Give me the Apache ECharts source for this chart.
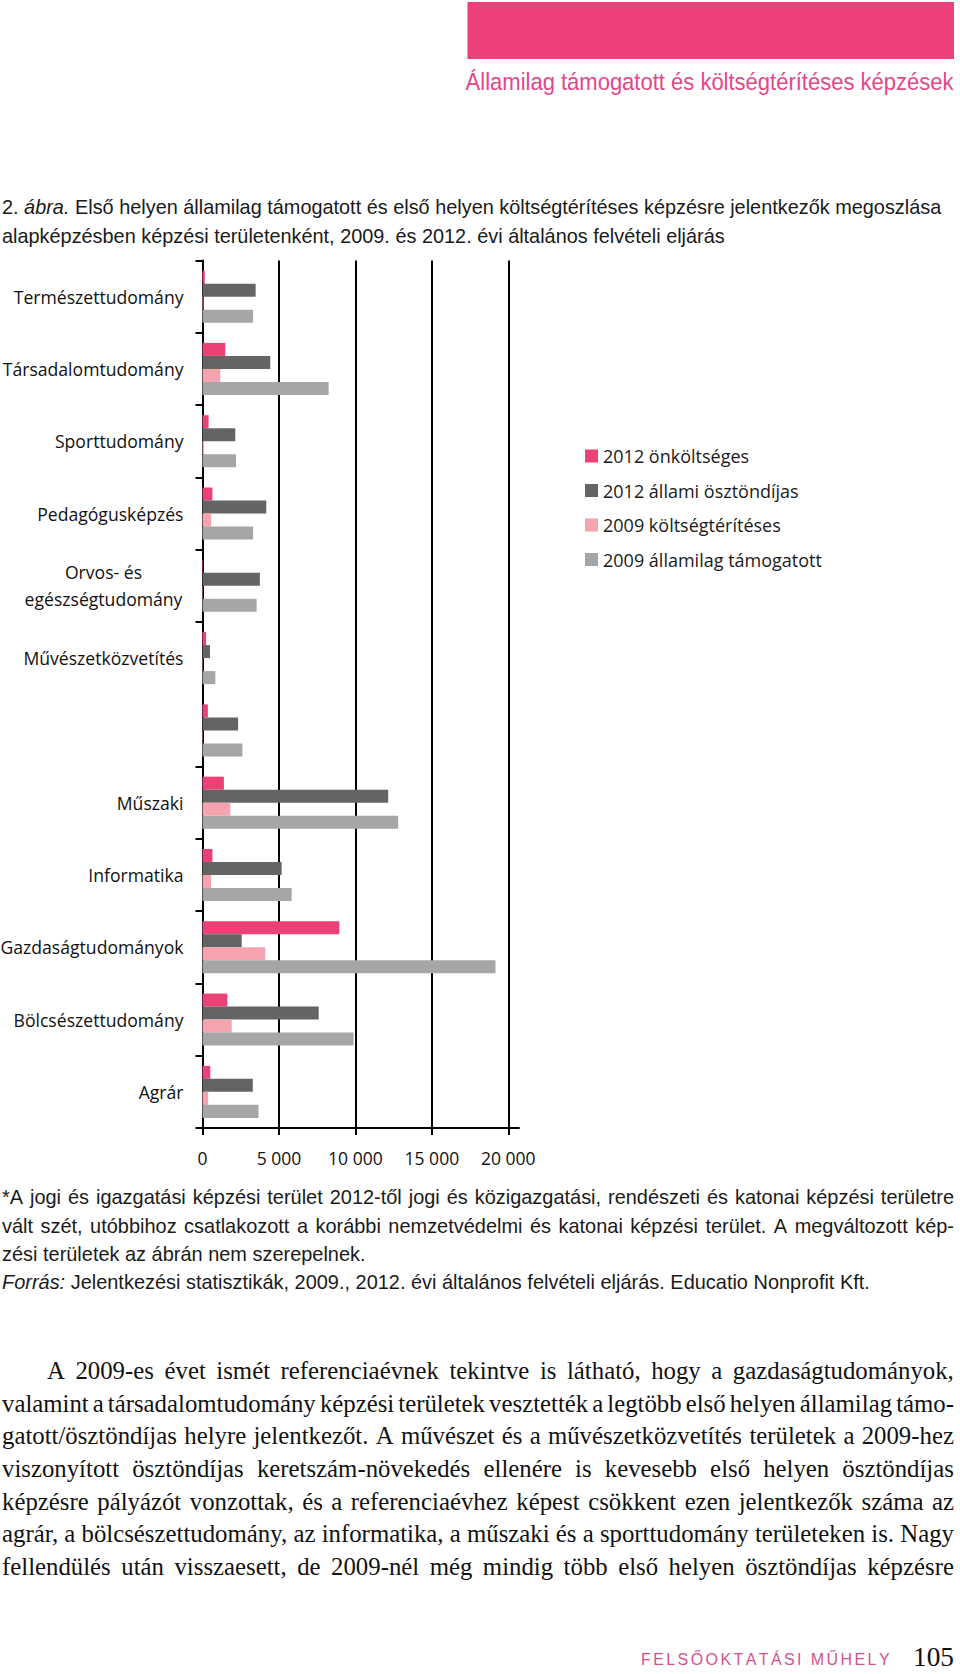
<!DOCTYPE html>
<html>
<head>
<meta charset="utf-8">
<script src="https://cdn.jsdelivr.net/npm/echarts@6/dist/echarts.min.js"></script>
<style>
html,body{margin:0;padding:0;background:#fff;}
#chart{width:960px;height:1674px;}
</style>
</head>
<body>
<div id="chart"></div>
<script>
// ---------- data ----------
const categories = ['Természettudomány','Társadalomtudomány','Sporttudomány','Pedagógusképzés','Orvos- és egészségtudomány','Művészetközvetítés','Művészet','Műszaki','Informatika','Gazdaságtudományok','Bölcsészettudomány','Agrár'];
const hiddenLabels = ['Művészet'];
const seriesNames = ['2012 önköltséges','2012 állami ösztöndíjas','2009 költségtérítéses','2009 államilag támogatott'];
const onkoltseges2012 = [150, 1490, 400, 650, 40, 235, 350, 1400, 650, 8950, 1630, 510];
const allami2012      = [3475, 4430, 2145, 4170, 3750, 490, 2330, 12145, 5175, 2565, 7600, 3290];
const koltsegterites2009 = [60, 1165, 100, 560, 30, 30, 30, 1820, 560, 4100, 1910, 370];
const tamogatott2009  = [3310, 8250, 2190, 3310, 3540, 840, 2610, 12800, 5830, 19160, 9880, 3660];
const xTicks = [0, 5000, 10000, 15000, 20000];
const xTickLabels = ['0', '5 000', '10 000', '15 000', '20 000'];

// ---------- texts ----------
const headerText = 'Államilag támogatott és költségtérítéses képzések';
const captionLines = [
  [['2. ', 'n'], ['ábra.', 'i'], [' Első helyen államilag támogatott és első helyen költségtérítéses képzésre jelentkezők megoszlása', 'n']],
  [['alapképzésben képzési területenként, 2009. és 2012. évi általános felvételi eljárás', 'n']]
];
const footLines = [
  '*A jogi és igazgatási képzési terület 2012-től jogi és közigazgatási, rendészeti és katonai képzési területre',
  'vált szét, utóbbihoz csatlakozott a korábbi nemzetvédelmi és katonai képzési terület. A megváltozott kép-',
  'zési területek az ábrán nem szerepelnek.'
];
const sourceLine = [['Forrás:', 'i'], [' Jelentkezési statisztikák, 2009., 2012. évi általános felvételi eljárás. Educatio Nonprofit Kft.', 'n']];
const bodyLines = [
  'A 2009-es évet ismét referenciaévnek tekintve is látható, hogy a gazdaságtudományok,',
  'valamint a társadalomtudomány képzési területek vesztették a legtöbb első helyen államilag támo-',
  'gatott/ösztöndíjas helyre jelentkezőt. A művészet és a művészetközvetítés területek a 2009-hez',
  'viszonyított ösztöndíjas keretszám-növekedés ellenére is kevesebb első helyen ösztöndíjas',
  'képzésre pályázót vonzottak, és a referenciaévhez képest csökkent ezen jelentkezők száma az',
  'agrár, a bölcsészettudomány, az informatika, a műszaki és a sporttudomány területeken is. Nagy',
  'fellendülés után visszaesett, de 2009-nél még mindig több első helyen ösztöndíjas képzésre'
];
const footerLabel = 'FELSŐOKTATÁSI MŰHELY';
const pageNumber = '105';

// ---------- text layout helpers ----------
const mctx = document.createElement('canvas').getContext('2d');
function mw(t, font){ mctx.font = font; return mctx.measureText(t).width; }
function txt(t, x, y, font, fill, scale, align){
  return {type:'text', x:x, y:y, scaleX:scale, silent:true,
    style:{text:t, font:font, fill:fill, textAlign:align||'left', align:align||'left',
           textVerticalAlign:'middle', verticalAlign:'middle'}};
}
const els = [];
const SANS = '"Liberation Sans", Arial, sans-serif';
const SERIF = '"Liberation Serif", "Times New Roman", serif';

// header
els.push({type:'rect', silent:true, shape:{x:467.5, y:2, width:486.5, height:57}, style:{fill:'#EE3F7D'}});
{
  const f = '24px ' + SANS;
  const s = 488 / mw(headerText, f);
  els.push(txt(headerText, 953.5, 82, f, '#E2478A', s, 'right'));
}
function segLine(segs, x, y, size, scale, fill){
  let cx = x;
  segs.forEach(([t, st]) => {
    const f = (st === 'i' ? 'italic ' : '') + size + 'px ' + SANS;
    els.push(txt(t, cx, y, f, fill, scale));
    cx += mw(t, f) * scale;
  });
}
function segWidth(segs, size){
  return segs.reduce((a, [t, st]) => a + mw(t, (st === 'i' ? 'italic ' : '') + size + 'px ' + SANS), 0);
}
function justify(line, font, x0, x1, y, scale, fill){
  const words = line.split(' ');
  const ws = words.map(w => mw(w, font) * scale);
  const sum = ws.reduce((a, b) => a + b, 0);
  const gap = (x1 - x0 - sum) / (words.length - 1);
  let cx = x0;
  words.forEach((w, i) => { els.push(txt(w, cx, y, font, fill, scale)); cx += ws[i] + gap; });
}
// caption
{
  const size = 20.5;
  const s = 940 / segWidth(captionLines[0], size);
  segLine(captionLines[0], 2, 207, size, s, '#1a1a1a');
  segLine(captionLines[1], 2, 236, size, s, '#1a1a1a');
}
// footnote
{
  const size = 20.5;
  const s = 868 / segWidth(sourceLine, size);
  const f = size + 'px ' + SANS;
  justify(footLines[0], f, 2, 954, 1197, s, '#1a1a1a');
  justify(footLines[1], f, 2, 954, 1226, s, '#1a1a1a');
  segLine([[footLines[2], 'n']], 2, 1254, size, s, '#1a1a1a');
  segLine(sourceLine, 2, 1281.5, size, s, '#1a1a1a');
}
// body
{
  const f = '26px ' + SERIF;
  const minGap = 4;
  let s = 10;
  bodyLines.forEach((l, i) => {
    const x0 = i === 0 ? 47 : 2;
    const words = l.split(' ');
    const nat = words.reduce((a, w) => a + mw(w, f), 0);
    s = Math.min(s, (954 - x0 - (words.length - 1) * minGap) / nat);
  });
  bodyLines.forEach((l, i) => justify(l, f, i === 0 ? 47 : 2, 954, 1370 + i * 32.6, s, '#111'));
}
// footer
{
  const f = '16px ' + SANS;
  const chars = footerLabel.split('');
  const ws = chars.map(c => mw(c, f));
  const sum = ws.reduce((a, b) => a + b, 0);
  const sp = (248.6 - sum) / (chars.length - 1);
  let cx = 641;
  chars.forEach((c, i) => { els.push(txt(c, cx, 1659, f, '#D8508C', 1)); cx += ws[i] + sp; });
  const fp = '28px ' + SERIF;
  els.push(txt(pageNumber, 954, 1656, fp, '#111', 41 / mw(pageNumber, fp), 'right'));
}

// ---------- chart ----------
const colors = ['#EB4275', '#646464', '#F4A3AF', '#A6A6A6'];
const seriesData = [onkoltseges2012, allami2012, koltsegterites2009, tamogatott2009];
const chart = echarts.init(document.getElementById('chart'), null, {renderer:'svg'});
chart.setOption({
  animation:false,
  backgroundColor:'#fff',
  grid:{left:202.5, top:260.5, right:441, bottom:546, outerBoundsMode:'none', containLabel:false},
  legend:{
    orient:'vertical', left:585, top:446, padding:0, itemWidth:13, itemHeight:13, itemGap:14.5, icon:'rect',
    selectedMode:false,
    textStyle:{fontFamily:'"Open Sans"', fontSize:18, lineHeight:20, color:'#1a1a1a'},
    data:seriesNames
  },
  xAxis:{
    type:'value', min:0, max:20700,
    axisLine:{show:true, lineStyle:{color:'#000', width:2}},
    axisTick:{show:true, length:7, lineStyle:{color:'#000', width:2}, customValues:xTicks},
    axisLabel:{customValues:xTicks, margin:21, fontFamily:'"Open Sans"', fontSize:17.5, color:'#111',
      formatter:(v) => { const i = xTicks.indexOf(v); return i >= 0 ? xTickLabels[i] : ''; }},
    splitLine:{show:true, lineStyle:{color:'#000', width:2}}
  },
  yAxis:{
    type:'category', inverse:true, data:categories,
    axisLine:{show:true, lineStyle:{color:'#000', width:2}},
    axisTick:{show:true, length:7, lineStyle:{color:'#000', width:2}},
    axisLabel:{
      margin:19, fontFamily:'"Open Sans"', fontSize:17.6, color:'#111',
      interval:(idx, val) => hiddenLabels.indexOf(val) < 0,
      formatter:(v) => {
        const k = v.indexOf('és ');
        if (k > 0 && v.length > 20) return '{c|' + v.slice(0, k + 2) + '}\n{c|' + v.slice(k + 3) + '}';
        return v;
      },
      rich:{c:{width:160, align:'center', fontFamily:'"Open Sans"', fontSize:17.6, lineHeight:27, color:'#111'}}
    },
    splitLine:{show:false}
  },
  series: seriesNames.map((n, i) => ({
    name:n, type:'bar', data:seriesData[i], barGap:'0%', barCategoryGap:'28%',
    itemStyle:{color:colors[i]}, emphasis:{disabled:true}, silent:true
  })),
  graphic:{elements:els}
});
</script>
</body>
</html>
